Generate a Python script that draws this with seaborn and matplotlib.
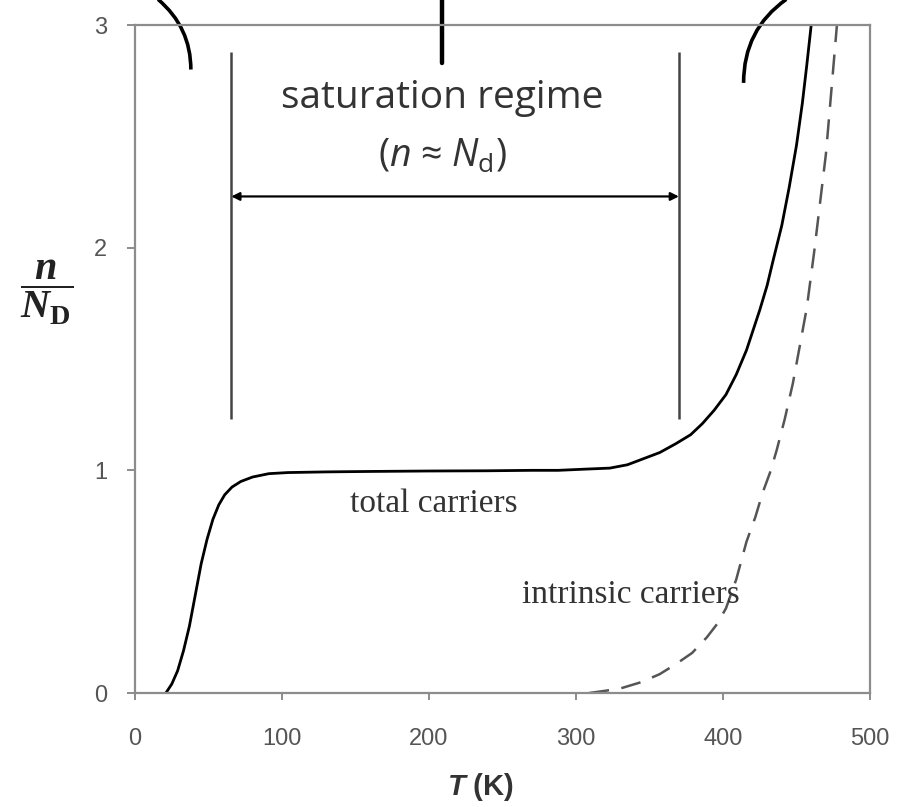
import matplotlib
matplotlib.use("Agg")
import matplotlib.pyplot as plt
from matplotlib.path import Path
from matplotlib.patches import PathPatch
import seaborn as sns
import numpy as np
import pandas as pd

# total carrier concentration n/N_D
T_total = [21, 25, 29, 33, 37, 41, 45, 49, 53, 57, 61, 66, 72, 80, 91, 104,
           130, 160, 200, 240, 270, 288, 305, 323, 335, 345, 357, 368, 378,
           386, 394, 402, 409, 416, 420, 425, 430, 434, 440, 445, 450, 454,
           457, 460]
n_total = [0.0, 0.04, 0.10, 0.19, 0.30, 0.44, 0.58, 0.69, 0.78, 0.845, 0.89,
           0.925, 0.95, 0.97, 0.985, 0.99, 0.993, 0.995, 0.997, 0.998, 1.0,
           1.0, 1.005, 1.01, 1.025, 1.05, 1.08, 1.12, 1.16, 1.21, 1.27, 1.34,
           1.43, 1.54, 1.62, 1.72, 1.83, 1.94, 2.10, 2.27, 2.46, 2.65, 2.82,
           3.0]

# intrinsic carriers (dashed)
T_intr = [309, 320, 330, 345, 357, 368, 379, 389, 396, 402, 409, 416, 422,
          427, 432, 436.5, 442, 447.5, 452, 457, 462, 466, 470, 473, 477.5]
n_intr = [0.0, 0.01, 0.02, 0.05, 0.085, 0.13, 0.18, 0.25, 0.31, 0.38, 0.51,
          0.68, 0.79, 0.90, 0.99, 1.09, 1.23, 1.39, 1.55, 1.73, 1.98, 2.2,
          2.42, 2.65, 3.0]

x_ticks = [0, 100, 200, 300, 400, 500]
y_ticks = [0, 1, 2, 3]

# saturation regime markers
sat_left, sat_right = 65.5, 370
sat_bottom, sat_top = 1.23, 2.88
arrow_y = 2.23

# cropped bracket fragments along the top edge
left_arc_T = [15.7, 38, 38]
left_arc_n = [3.115, 2.99, 2.80]
right_arc_T = [443, 414, 414]
right_arc_n = [3.115, 2.98, 2.74]
mid_tick_T = [208.7, 208.7]
mid_tick_n = [2.83, 3.15]

sns.set_style("ticks")
plt.rcParams["mathtext.fontset"] = "custom"
plt.rcParams["mathtext.rm"] = "Open Sans"
plt.rcParams["mathtext.it"] = "Open Sans:italic"
plt.rcParams["mathtext.bf"] = "Liberation Serif:italic:bold"
plt.rcParams["mathtext.sf"] = "Liberation Serif:bold"
plt.rcParams["mathtext.cal"] = "Liberation Sans:italic:bold"

fig = plt.figure(figsize=(8.99, 8.07), dpi=100)
ax = fig.add_axes([135 / 899, 1 - 693 / 807, 735 / 899, 668 / 807])

total = pd.DataFrame({"T": T_total, "n": n_total})
intr = pd.DataFrame({"T": T_intr, "n": n_intr})
sns.lineplot(data=total, x="T", y="n", ax=ax, color="black", linewidth=2.0,
             sort=False, estimator=None)
sns.lineplot(data=intr, x="T", y="n", ax=ax, color="#555555", linewidth=1.8,
             sort=False, estimator=None, linestyle=(0, (8, 5)))

ax.set_xlim(0, 500)
ax.set_ylim(0, 3)
ax.set_xticks(x_ticks)
ax.set_yticks(y_ticks)
ax.set_xticklabels([str(t) for t in x_ticks], family="Liberation Sans")
ax.set_yticklabels([str(t) for t in y_ticks], family="Liberation Sans")

frame = "#8c8c8c"
for side in ["left", "right", "top", "bottom"]:
    ax.spines[side].set_visible(True)
    ax.spines[side].set_color(frame)
    ax.spines[side].set_linewidth(1.6)
ax.tick_params(axis="x", length=5, width=1.4, color=frame, pad=20,
               labelsize=17, labelcolor="#555555")
ax.tick_params(axis="y", length=6, width=1.4, color=frame, pad=14,
               labelsize=17, labelcolor="#555555")

ax.set_xlabel("")
ax.set_ylabel("")
ax.text(0.47, -0.14, r"$\mathcal{T}$ (K)", transform=ax.transAxes,
        ha="center", va="center", family="Liberation Sans", weight="bold",
        fontsize=21, color="#333333")
ax.text(-0.12, 1.80, r"$\dfrac{\mathbf{n}}{\mathbf{N}_{\mathsf{D}}}$",
        transform=ax.get_yaxis_transform(), ha="center", va="center",
        fontsize=29, color="#222222")

# saturation regime bracket
ax.vlines([sat_left, sat_right], sat_bottom, sat_top, color="#444444",
          linewidth=1.8)
ax.annotate("", xy=(sat_left, arrow_y), xytext=(sat_right, arrow_y),
            arrowprops=dict(arrowstyle="<|-|>", color="black", lw=1.6,
                            mutation_scale=12, shrinkA=0, shrinkB=0))
ax.text(209, 2.67, "saturation regime", ha="center", va="center",
        family="Open Sans", fontsize=28, color="#333333")
ax.text(209, 2.41, r"($n$ ≈ $N_\mathrm{d}$)", ha="center", va="center",
        family=["Open Sans", "DejaVu Sans"], fontsize=27, color="#333333")

ax.text(203, 0.85, "total carriers", ha="center", va="center",
        family="Liberation Serif", fontsize=24, color="#333333")
ax.text(337, 0.44, "intrinsic carriers", ha="center", va="center",
        family="Liberation Serif", fontsize=24, color="#333333")

codes = [Path.MOVETO, Path.CURVE3, Path.CURVE3]
for arc_T, arc_n in [(left_arc_T, left_arc_n), (right_arc_T, right_arc_n)]:
    patch = PathPatch(Path(list(zip(arc_T, arc_n)), codes), fill=False,
                      edgecolor="black", linewidth=2.6, clip_on=False)
    ax.add_patch(patch)
ax.plot(mid_tick_T, mid_tick_n, color="black", linewidth=3.2, clip_on=False)

fig.savefig("out.png", dpi=100, facecolor="white")
